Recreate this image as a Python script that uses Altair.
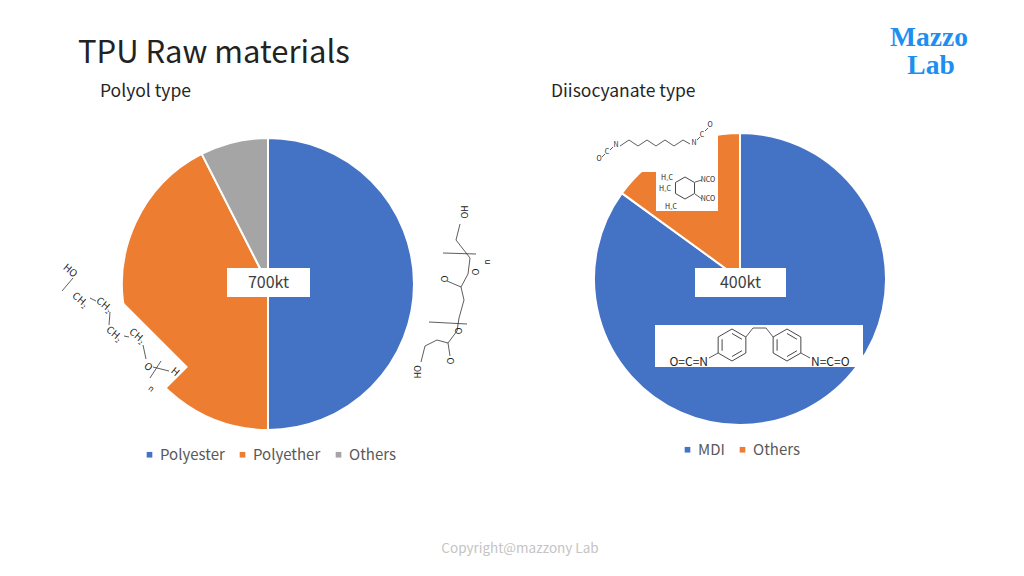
import altair as alt
import pandas as pd

# ---- data ----
polyol_types = ["Polyester", "Polyether", "Others"]
polyol_share = [50.0, 42.5, 7.5]
polyol_total = "700kt"

iso_types = ["MDI", "Others"]
iso_share = [85.0, 15.0]
iso_total = "400kt"

BLUE, ORANGE, GRAY = "#4472C4", "#ED7D31", "#A5A5A5"
FONT = "Noto Sans CJK JP"
OFF = 8  # page margin


def one():
    return pd.DataFrame({"t": [""]})


def txt(s, x, y, size, color="#000000", align="left", baseline="alphabetic",
        angle=0, font=FONT, weight="normal"):
    return alt.Chart(pd.DataFrame({"t": [s]})).mark_text(
        align=align, baseline=baseline, fontSize=size, color=color,
        angle=angle, font=font, fontWeight=weight
    ).encode(text="t:N", x=alt.value(x - OFF), y=alt.value(y - OFF))


def box(x1, y1, x2, y2, fill="white"):
    return alt.Chart(one()).mark_rect(fill=fill, stroke=None).encode(
        x=alt.value(x1 - OFF), x2=alt.value(x2 - OFF),
        y=alt.value(y1 - OFF), y2=alt.value(y2 - OFF))


def seg(x1, y1, x2, y2, w=0.8):
    return alt.Chart(one()).mark_rule(color="#333333", strokeWidth=w).encode(
        x=alt.value(x1 - OFF), x2=alt.value(x2 - OFF),
        y=alt.value(y1 - OFF), y2=alt.value(y2 - OFF))


def poly(pts, w=0.8):
    return [seg(a[0], a[1], b[0], b[1], w) for a, b in zip(pts[:-1], pts[1:])]


HEX = "M0,-1L0.866,-0.5L0.866,0.5L0,1L-0.866,0.5L-0.866,-0.5Z"
HEX_INNER = "M0,-0.72L0.62,-0.36M0.62,0.36L0,0.72M-0.62,0.36L-0.62,-0.36"


def ring(x, y, r, shape=HEX):
    return alt.Chart(one()).mark_point(
        shape=shape, filled=False, stroke="#333333", strokeWidth=0.9,
        size=(2 * r) ** 2, opacity=1
    ).encode(x=alt.value(x - OFF), y=alt.value(y - OFF))


def rot_rect(cx, cy, length, width, angle):
    h = width / length
    path = f"M-1,{-h}L1,{-h}L1,{h}L-1,{h}Z"
    return alt.Chart(one()).mark_point(
        shape=path, filled=True, fill="white", stroke=None, size=length ** 2,
        opacity=1, angle=angle
    ).encode(x=alt.value(cx - OFF), y=alt.value(cy - OFF))


legend_common = dict(
    orient="none", direction="horizontal", title=None, symbolType="square",
    symbolSize=32, labelFontSize=15, labelColor="#595959", labelFont=FONT,
    columnPadding=10, labelOffset=3, symbolStrokeWidth=0,
)

# ---- pies ----
left_df = pd.DataFrame({"type": polyol_types, "share": polyol_share,
                        "k": list(range(len(polyol_types)))})
left_pie = alt.Chart(left_df).mark_arc(
    radius=146, stroke="white", strokeWidth=2
).encode(
    theta=alt.Theta("share:Q", stack=True),
    order=alt.Order("k:Q"),
    color=alt.Color("type:N", scale=alt.Scale(domain=polyol_types,
                                              range=[BLUE, ORANGE, GRAY]),
                    legend=alt.Legend(legendX=142 - OFF, legendY=447 - OFF,
                                      **legend_common)),
    x=alt.value(268 - OFF), y=alt.value(284 - OFF),
)

right_df = pd.DataFrame({"type": iso_types, "share": iso_share,
                         "k": list(range(len(iso_types)))})
right_pie = alt.Chart(right_df).mark_arc(
    radius=146, stroke="white", strokeWidth=2
).encode(
    theta=alt.Theta("share:Q", stack=True),
    order=alt.Order("k:Q"),
    color=alt.Color("type:N", scale=alt.Scale(domain=iso_types,
                                              range=[BLUE, ORANGE]),
                    legend=alt.Legend(legendX=680 - OFF, legendY=442 - OFF,
                                      **legend_common)),
    x=alt.value(740 - OFF), y=alt.value(279 - OFF),
)

layers = [left_pie, right_pie]

# ---- structure images (white backgrounds) ----
layers += [
    rot_rect(113.7, 328.1, 160, 50, 45),   # polyether picture
    box(590, 115, 718, 172),                # HDI picture
    box(656, 172, 718, 211),                # IPDI picture
    box(655, 325, 863, 367),                # MDI picture
    box(227, 268, 310, 297),                # total label
    box(695, 268, 786, 297),
]

# ---- totals ----
layers += [
    txt(polyol_total, 268.5, 283, 16, "#404040", align="center", baseline="middle"),
    txt(iso_total, 740.5, 283, 16, "#404040", align="center", baseline="middle"),
]

# ---- MDI structure ----
layers += [ring(732, 345, 16), ring(787, 345, 16),
           ring(732, 345, 16, HEX_INNER), ring(787, 345, 16, HEX_INNER)]
layers += poly([(745.9, 337), (753, 328), (766, 328), (773.1, 337)])
layers += [seg(718.1, 353, 709, 358), seg(800.9, 353, 810, 358)]
layers += [
    txt("O=C=N", 708, 366, 12, "#222222", align="right"),
    txt("N=C=O", 811, 366, 12, "#222222", align="left"),
]

# ---- IPDI structure ----
layers += [ring(685, 188, 11, HEX)]
layers += [
    txt("H₃C", 667, 178, 7, "#222222", align="center", baseline="middle"),
    txt("H₃C", 665, 189, 7, "#222222", align="center", baseline="middle"),
    txt("H₃C", 671, 207, 7, "#222222", align="center", baseline="middle"),
    txt("NCO", 708, 180, 7, "#222222", align="center", baseline="middle"),
    txt("NCO", 708, 199, 7, "#222222", align="center", baseline="middle"),
]
layers += [seg(695, 182, 702, 180), seg(695, 194, 702, 199)]

# ---- HDI structure ----
layers += poly([(620, 146), (629, 140), (638, 146), (647, 140), (656, 146),
                (665, 140), (674, 146), (683, 140), (690, 144)])
layers += [
    txt("N", 616, 145, 7, "#222222", align="center", baseline="middle"),
    txt("C", 607, 152, 7, "#222222", align="center", baseline="middle"),
    txt("O", 599, 159, 7, "#222222", align="center", baseline="middle"),
    txt("N", 694, 143, 7, "#222222", align="center", baseline="middle"),
    txt("C", 702, 135, 7, "#222222", align="center", baseline="middle"),
    txt("O", 710, 125, 7, "#222222", align="center", baseline="middle"),
]
layers += [seg(602, 157, 605, 154), seg(610, 150, 613, 147),
           seg(697, 140, 700, 137), seg(705, 131, 708, 128)]

# ---- polyether structure ----
layers += [
    txt("HO", 70, 271, 10, "#222222", align="center", baseline="middle", angle=40),
    txt("CH₂", 80, 300, 10, "#222222", align="center", baseline="middle", angle=40),
    txt("CH₂", 104, 305, 10, "#222222", align="center", baseline="middle", angle=40),
    txt("CH₂", 114, 334, 10, "#222222", align="center", baseline="middle", angle=40),
    txt("CH₂", 137, 336, 10, "#222222", align="center", baseline="middle", angle=40),
    txt("O", 148, 367, 10, "#222222", align="center", baseline="middle", angle=40),
    txt("H", 175, 372, 10, "#222222", align="center", baseline="middle", angle=40),
    txt("n", 151, 389, 8, "#222222", align="center", baseline="middle", angle=40),
]
layers += [seg(90, 298, 96, 301), seg(110, 312, 109, 325), seg(124, 336, 129, 337),
           seg(143, 345, 146, 359), seg(153, 367, 169, 371),
           seg(73, 278, 62, 291), seg(161, 361, 150, 378)]

# ---- polyester structure ----
layers += poly([(421, 362), (425, 346), (437, 340), (448, 343), (457, 331),
                (459, 318), (464, 300), (461, 287), (468, 274), (470, 258),
                (456, 240), (460, 224)])
layers += [seg(448, 343, 450, 356), seg(461, 287, 447, 281),
           seg(429, 322, 467, 324), seg(443, 253, 476, 254)]
layers += [
    txt("HO", 418, 372, 9, "#222222", align="center", baseline="middle", angle=270),
    txt("O", 451, 361, 9, "#222222", align="center", baseline="middle", angle=270),
    txt("O", 459, 331, 9, "#222222", align="center", baseline="middle", angle=270),
    txt("O", 445, 279, 9, "#222222", align="center", baseline="middle", angle=270),
    txt("O", 476, 272, 9, "#222222", align="center", baseline="middle", angle=270),
    txt("n", 488, 262, 8, "#222222", align="center", baseline="middle", angle=270),
    txt("OH", 465, 212, 9, "#222222", align="center", baseline="middle", angle=270),
]

# ---- titles / text ----
layers += [
    txt("TPU Raw materials", 78, 63, 31, "#222222"),
    txt("Polyol type", 100, 97, 17.5, "#262626"),
    txt("Diisocyanate type", 551, 97, 17.5, "#262626"),
    txt("Copyright@mazzony Lab", 520, 553, 13.5, "#C4C4C4", align="center"),
    txt("Mazzo", 929, 46, 27.5, "#1E8FF0", align="center",
        font="Liberation Serif", weight="bold"),
    txt("Lab", 931, 74, 27.5, "#1E8FF0", align="center",
        font="Liberation Serif", weight="bold"),
]

chart = alt.layer(*layers).resolve_scale(
    theta="independent", color="independent"
).properties(
    width=1008, height=560, autosize=alt.AutoSizeParams(type="none"),
    padding=0, background="white"
).configure_view(stroke=None)

chart.save("out.html", embed_options={"renderer": "svg", "actions": False})
